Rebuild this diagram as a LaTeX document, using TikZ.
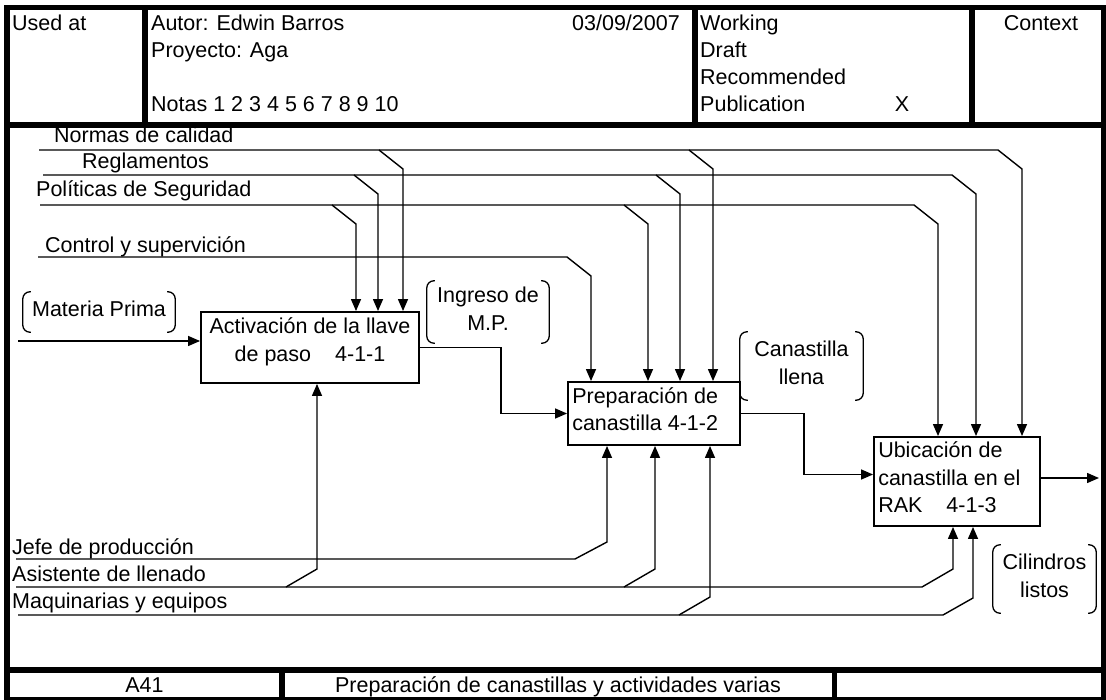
\documentclass[tikz,border=0pt]{standalone}
\usepackage{fontspec}
\setmainfont{Liberation Sans}
\usetikzlibrary{arrows.meta}

\tikzset{
  txt/.style={inner sep=0pt, font=\fontsize{21.5}{27.5}\selectfont},
  tag/.style={txt, align=center, text depth=7pt},
  proc/.style={draw, line width=1.9pt, inner sep=0pt},
  link/.style={line width=1.4pt},
  arr/.style={link, -{Triangle[length=12pt,width=10pt]}},
  frame/.style={line width=5.5pt},
  bracket/.style={line width=1.3pt, rounded corners=7pt},
}

\begin{document}
\begin{tikzpicture}[x=1pt,y=-1pt]
  \useasboundingbox (0,0) rectangle (1106,700);
  % frame, header and footer
  \draw[frame] (7,7.5) rectangle (1103.5,700);
  \draw[frame] (7,125) -- (1103.5,125);
  \draw[frame] (7,670) -- (1103.5,670);
  \foreach \x in {145,695,972} \draw[frame] (\x,7.5) -- (\x,125);
  \foreach \x in {282,834.5} \draw[frame] (\x,670) -- (\x,700);

  \node[txt,anchor=base west] (used) at (12,31) {Used at};
  \node[txt,anchor=base west] (autor) at (151,31) {Autor: Edwin Barros};
  \node[txt,anchor=base east] (fecha) at (680,31) {03/09/2007};
  \node[txt,anchor=base west] (proy) at (151,58) {Proyecto: Aga};
  \node[txt,anchor=base west] (notas) at (151,112) {Notas 1 2 3 4 5 6 7 8 9 10};
  \node[txt,anchor=base west] (work) at (700,31) {Working};
  \node[txt,anchor=base west] (draft) at (700,58) {Draft};
  \node[txt,anchor=base west] (recom) at (700,85) {Recommended};
  \node[txt,anchor=base west] (publ) at (700,112) {Publication};
  \node[txt,anchor=base] (marca) at (902,112) {X};
  \node[txt,anchor=base] (ctx) at (1041,31) {Context};
  \node[txt,anchor=base] (nodo) at (144.5,692.5) {A41};
  \node[txt,anchor=base] (titulo) at (558,692.5) {Preparación de canastillas y actividades varias};

  % activities
  \node[proc, minimum width=218pt, minimum height=71pt] (b1) at (310,347.5) {};
  \node[proc, minimum width=172pt, minimum height=63pt] (b2) at (654,413.5) {};
  \node[proc, minimum width=166pt, minimum height=89pt] (b3) at (957,481.5) {};
  \node[txt, align=center] (t1) at ([yshift=5.5pt]b1.center) {Activación de la llave\\de paso\hspace{24pt}4-1-1};
  \node[txt, align=left, anchor=west] (t2) at ([xshift=5pt,yshift=4.5pt]b2.west) {Preparación de\\canastilla 4-1-2};
  \node[txt, align=left, anchor=west] (t3) at ([xshift=5pt,yshift=4pt]b3.west) {Ubicación de\\canastilla en el\\RAK\hspace{24pt}4-1-3};

  % ICOM labels
  \node[tag, minimum width=152pt, minimum height=40pt] (mp) at (99,312) {Materia Prima};
  \node[tag, minimum width=122pt, minimum height=62pt] (ing) at (488,312) {Ingreso de\\M.P.};
  \node[tag, minimum width=123pt, minimum height=68pt] (can) at (801.5,366) {Canastilla\\llena};
  \node[tag, minimum width=103pt, minimum height=68pt] (cil) at (1044.5,579) {Cilindros\\listos};
  \foreach \n in {mp,ing,can,cil} {
    \draw[bracket] ([xshift=8pt]\n.north west) -- (\n.north west) -- (\n.south west) -- ([xshift=8pt]\n.south west);
    \draw[bracket] ([xshift=-8pt]\n.north east) -- (\n.north east) -- (\n.south east) -- ([xshift=-8pt]\n.south east);
  }

  % controls
  \node[txt,anchor=base west] (lnor) at (54,143) {Normas de calidad};
  \node[txt,anchor=base west] (lreg) at (82,169) {Reglamentos};
  \node[txt,anchor=base west] (lpol) at (36,197) {Políticas de Seguridad};
  \node[txt,anchor=base west] (lcon) at (45,253) {Control y supervición};
  \coordinate (nor) at (39,150);
  \coordinate (reg) at (43,175);
  \coordinate (pol) at (40,205);
  \coordinate (con) at (38,257);
  \draw[arr] (nor) -- (998,150) -- ++(24,19) -- (1022,0 |- b3.north);
  \draw[arr] (reg) -- (952,175) -- ++(24,19) -- (976,0 |- b3.north);
  \draw[arr] (pol) -- (914,205) -- ++(24,19) -- (938,0 |- b3.north);
  \draw[arr] (con) -- (567,257) -- ++(24,19) -- (591,0 |- b2.north);
  \foreach \y/\x/\b in {150/379/b1, 150/689/b2, 175/354/b1, 175/656/b2, 205/332/b1, 205/624/b2}
    \draw[arr] (\x,\y) -- ++(24,19) -- (\x+24,0 |- \b.north);

  % mechanisms
  \node[txt,anchor=base west] (ljef) at (12,554) {Jefe de producción};
  \node[txt,anchor=base west] (lasi) at (12,581) {Asistente de llenado};
  \node[txt,anchor=base west] (lmaq) at (12,608) {Maquinarias y equipos};
  \coordinate (jef) at (16,559);
  \coordinate (asi) at (16,587);
  \coordinate (maq) at (18,615);
  \draw[arr] (jef) -- (575,559) -- ++(32,-17) -- (607,0 |- b2.south);
  \draw[arr] (asi) -- (922,587) -- ++(31,-18) -- (953,0 |- b3.south);
  \draw[arr] (maq) -- (943,615) -- ++(30,-17) -- (973,0 |- b3.south);
  \foreach \y/\x/\b in {587/286/b1, 587/624/b2, 615/679/b2}
    \draw[arr] (\x,\y) -- ++(31,-18) -- (\x+31,0 |- \b.south);

  % inputs and outputs
  \coordinate (in) at (18,341);
  \coordinate (out) at (1099,478);
  \draw[arr] (in) -- (in -| b1.west);
  \draw[arr] (b1.east) -- ++(81,0) |- (b2.west);
  \draw[arr] (b2.east) -- ++(63,0) |- ([yshift=7pt]b3.west);
  \draw[arr] (b3.east |- out) -- (out);
\end{tikzpicture}
\end{document}
